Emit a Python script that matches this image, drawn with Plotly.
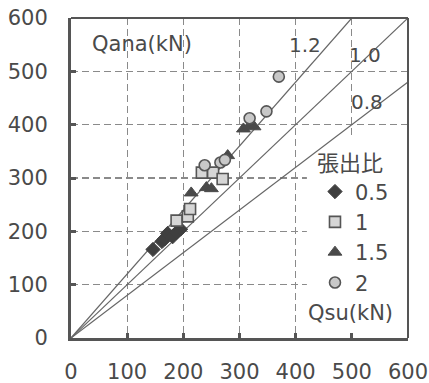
import plotly.graph_objects as go

# ---- data ----
ratio_labels = ["0.5", "1", "1.5", "2"]
x_05 = [146, 162, 167, 172, 181, 188, 195]
y_05 = [166, 181, 186, 196, 190, 198, 204]
x_10 = [188, 208, 212, 233, 253, 270]
y_10 = [220, 228, 242, 310, 310, 298]
x_15 = [214, 241, 250, 279, 307, 318, 326]
y_15 = [272, 282, 280, 342, 392, 398, 396]
x_20 = [238, 266, 274, 318, 348, 370]
y_20 = [324, 329, 334, 412, 425, 490]
slopes = [1.2, 1.0, 0.8]
slope_labels = ["1.2", "1.0", "0.8"]
ticks = [0, 100, 200, 300, 400, 500, 600]
axis_max = 600

TXT = "#4a4a4a"
FONT = "DejaVu Sans"
CJK = "Noto Sans CJK JP"

fig = go.Figure()

# reference lines y = k x
for k in slopes:
    xe = min(axis_max, axis_max / k)
    fig.add_trace(go.Scatter(x=[0, xe], y=[0, k * xe], mode="lines",
                             line=dict(color="#666666", width=1.2),
                             showlegend=False, hoverinfo="skip"))

series = [
    (x_05, y_05, ratio_labels[0], dict(symbol="diamond", size=11, color="#3f3f3f",
                                       line=dict(color="#3f3f3f", width=1))),
    (x_10, y_10, ratio_labels[1], dict(symbol="square", size=11, color="#d6d6d6",
                                       line=dict(color="#555555", width=1.6))),
    (x_15, y_15, ratio_labels[2], dict(symbol="triangle-up", size=12, color="#4a4a4a",
                                       line=dict(color="#4a4a4a", width=1))),
    (x_20, y_20, ratio_labels[3], dict(symbol="circle", size=11, color="#c8c8c8",
                                       line=dict(color="#555555", width=1.6))),
]
for xs, ys, name, mk in series:
    fig.add_trace(go.Scatter(x=xs, y=ys, mode="markers", name=name, marker=mk))

axis_common = dict(range=[0, axis_max], tickvals=ticks, showgrid=True,
                   gridcolor="#8a8a8a", gridwidth=1.1, griddash="7px,4px",
                   zeroline=False, showline=True, linecolor="#555555", linewidth=3,
                   ticks="inside", ticklen=5, tickwidth=3, tickcolor="#555555",
                   tickfont=dict(family=FONT, size=21, color=TXT), fixedrange=True,
                   automargin=False, ticklabeloverflow="allow")

fig.update_xaxes(**axis_common, ticklabelstandoff=13)
fig.update_yaxes(**axis_common, ticklabelstandoff=16)

shapes = [
    # white box behind legend (above grid, below traces)
    dict(type="rect", xref="x", yref="y", x0=420, x1=axis_max, y0=0, y1=378,
         fillcolor="white", line=dict(width=0), layer="between"),
    # top and right frame
    dict(type="line", xref="paper", yref="paper", x0=0, x1=1, y0=1, y1=1,
         line=dict(color="#555555", width=2)),
    dict(type="line", xref="paper", yref="paper", x0=1, x1=1, y0=0, y1=1,
         line=dict(color="#555555", width=2)),
]

ann = [
    dict(x=126, y=551, text="Qana(kN)", font=dict(family=FONT, size=21, color=TXT)),
    dict(x=497, y=47, text="Qsu(kN)", font=dict(family=FONT, size=21, color=TXT)),
]
label_pos = [(417, 550), (523, 531), (527, 443)]
for (lx, ly), t in zip(label_pos, slope_labels):
    ann.append(dict(x=lx, y=ly, text=t, font=dict(family=FONT, size=20, color=TXT)))
for a in ann:
    a.update(xref="x", yref="y", showarrow=False)

fig.update_layout(
    width=429, height=383,
    margin=dict(l=71, r=21, t=18, b=45),
    paper_bgcolor="white", plot_bgcolor="white",
    shapes=shapes, annotations=ann,
    hovermode=False,
    legend=dict(x=0.724, y=0.61, xanchor="left", yanchor="top",
                bgcolor="rgba(0,0,0,0)", borderwidth=0,
                title=dict(text="張出比", font=dict(family=CJK, size=22, color=TXT)),
                font=dict(family=FONT, size=21, color=TXT),
                itemwidth=30, tracegroupgap=0),
)

# remove the default page margin so the figure fills the window exactly
fig.write_html("out.html",
               config={"displayModeBar": False, "staticPlot": True},
               post_script="document.body.style.margin='0';document.body.style.overflow='hidden';")
